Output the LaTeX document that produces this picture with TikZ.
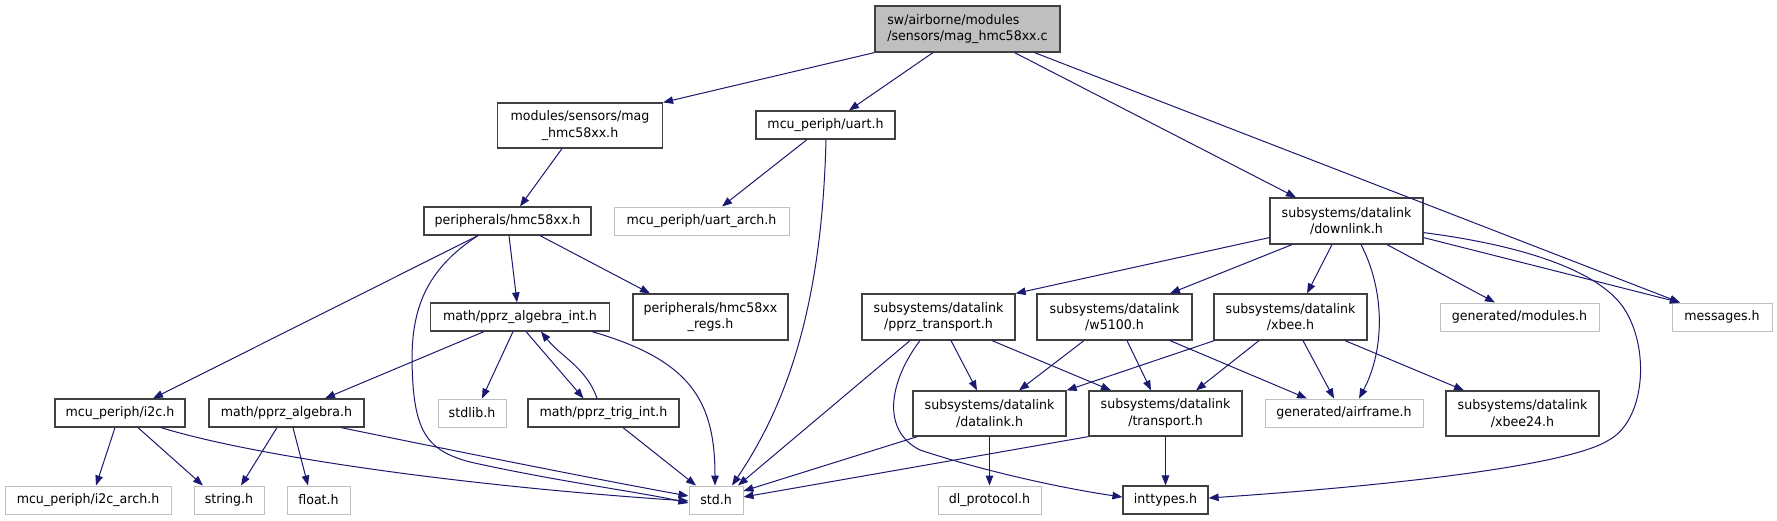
\documentclass[tikz,border=0pt]{standalone}
\usepackage{fontspec}
\setmainfont{DejaVu Sans}[FakeStretch=0.955]
\usetikzlibrary{arrows.meta}
\definecolor{edgeblue}{HTML}{191970}
\definecolor{gborder}{HTML}{BFBFBF}
\definecolor{bborder}{HTML}{404040}
\begin{document}
\begin{tikzpicture}[x=1pt,y=-1pt,
  every node/.style={font=\fontsize{13.2}{16.8}\selectfont, inner sep=0pt, align=center},
  bbox/.style={draw=bborder, line width=1.2pt, fill=white},
  gbox/.style={draw=gborder, line width=1pt, fill=white},
  edge/.style={draw=edgeblue, line width=1pt, -{Triangle[length=10pt,width=7.5pt]}}]
\useasboundingbox (0,0) rectangle (1777,520);
% rank 0
\node[bbox, fill=gborder, align=left, minimum width=185pt, minimum height=46pt] (root) at (967.5,29) {sw/airborne/modules\\/sensors/mag\_hmc58xx.c};
% rank 1
\node[bbox, minimum width=165pt, minimum height=45pt] (mag) at (580,125.5) {modules/sensors/mag\\\_hmc58xx.h};
\node[bbox, minimum width=139pt, minimum height=28pt] (uart) at (825.5,125) {mcu\_periph/uart.h};
% rank 2
\node[bbox, minimum width=167pt, minimum height=28pt] (hmc) at (507.5,221) {peripherals/hmc58xx.h};
\node[gbox, minimum width=175pt, minimum height=28pt] (uartarch) at (701.5,221) {mcu\_periph/uart\_arch.h};
\node[bbox, minimum width=153pt, minimum height=46pt] (downlink) at (1346.5,221) {subsystems/datalink\\/downlink.h};
% rank 3
\node[bbox, minimum width=179pt, minimum height=28pt] (algint) at (520,317) {math/pprz\_algebra\_int.h};
\node[bbox, minimum width=155pt, minimum height=46pt] (regs) at (710.5,317) {peripherals/hmc58xx\\\_regs.h};
\node[bbox, minimum width=153pt, minimum height=46pt] (pprzt) at (938.5,317) {subsystems/datalink\\/pprz\_transport.h};
\node[bbox, minimum width=155pt, minimum height=46pt] (w5100) at (1114.5,317) {subsystems/datalink\\/w5100.h};
\node[bbox, minimum width=153pt, minimum height=46pt] (xbee) at (1290.5,317) {subsystems/datalink\\/xbee.h};
\node[gbox, minimum width=159pt, minimum height=28pt] (genmod) at (1519.5,317) {generated/modules.h};
\node[gbox, minimum width=100pt, minimum height=28pt] (messages) at (1722,317) {messages.h};
% rank 4
\node[bbox, minimum width=130pt, minimum height=28pt] (i2c) at (120,413) {mcu\_periph/i2c.h};
\node[bbox, minimum width=155pt, minimum height=28pt] (alg) at (286.5,413) {math/pprz\_algebra.h};
\node[gbox, minimum width=68pt, minimum height=28pt] (stdlib) at (472,413) {stdlib.h};
\node[bbox, minimum width=151pt, minimum height=28pt] (trig) at (603.5,413) {math/pprz\_trig\_int.h};
\node[bbox, minimum width=153pt, minimum height=45pt] (datalink) at (989.5,413.5) {subsystems/datalink\\/datalink.h};
\node[bbox, minimum width=153pt, minimum height=45pt] (transport) at (1165.5,413.5) {subsystems/datalink\\/transport.h};
\node[gbox, minimum width=158pt, minimum height=28pt] (airframe) at (1344,413) {generated/airframe.h};
\node[bbox, minimum width=153pt, minimum height=45pt] (xbeetf) at (1522.5,413.5) {subsystems/datalink\\/xbee24.h};
% rank 5
\node[gbox, minimum width=166pt, minimum height=28pt] (i2carch) at (88,500) {mcu\_periph/i2c\_arch.h};
\node[gbox, minimum width=70pt, minimum height=28pt] (string) at (229,500) {string.h};
\node[gbox, minimum width=63pt, minimum height=28pt] (float) at (318.5,500) {float.h};
\node[gbox, minimum width=54pt, minimum height=28pt] (std) at (716,500) {std.h};
\node[gbox, minimum width=103pt, minimum height=28pt] (dlproto) at (989.5,500) {dl\_protocol.h};
\node[bbox, minimum width=85pt, minimum height=28pt] (inttypes) at (1165.5,500) {inttypes.h};
% edges from root
\draw[edge] (root.south west) -- (mag.north east);
\draw[edge] ([xshift=-34.5pt]root.south) -- ([xshift=23.5pt]uart.north);
\draw[edge] ([xshift=47pt]root.south) -- ([xshift=-50.5pt]downlink.north);
\draw[edge] ([xshift=67pt]root.south) -- ([xshift=-42pt]messages.north);
% mag, uart
\draw[edge] ([xshift=-18pt]mag.south) -- ([xshift=12.5pt]hmc.north);
\draw[edge] ([xshift=-18.5pt]uart.south) -- ([xshift=20.5pt]uartarch.north);
\draw[edge] ([xshift=0.5pt]uart.south) .. controls +(-4,160) and +(58,-86) .. ([xshift=16pt]std.north);
% hmc
\draw[edge] ([xshift=-29.5pt]hmc.south) -- ([xshift=33pt]i2c.north);
\draw[edge] ([xshift=-29.5pt]hmc.south) .. controls (425,270) and (412,310) .. (412,360) .. controls (413,430) and (425,450) .. (470,462) .. controls (560,482) and (640,492) .. ([yshift=-3pt]std.west);
\draw[edge] ([xshift=1.5pt]hmc.south) -- ([xshift=-3pt]algint.north);
\draw[edge] ([xshift=32.5pt]hmc.south) -- ([xshift=-60.5pt]regs.north);
% algint
\draw[edge] ([xshift=-36pt]algint.south) -- ([xshift=38.5pt]alg.north);
\draw[edge] ([xshift=-7pt]algint.south) -- ([xshift=10pt]stdlib.north);
\draw[edge] ([xshift=6pt]algint.south) -- ([xshift=-20pt]trig.north);
\draw[edge] ([xshift=-6.5pt]trig.north) .. controls +(-10,-30) and +(20,25) .. ([xshift=21pt]algint.south);
\draw[edge] ([xshift=72pt]algint.south) .. controls (690,360) and (715,400) .. ([xshift=-1pt]std.north);
% i2c, alg, trig
\draw[edge] ([xshift=-5pt]i2c.south) -- ([xshift=8pt]i2carch.north);
\draw[edge] ([xshift=18pt]i2c.south) -- ([xshift=-26pt]string.north);
\draw[edge] ([xshift=41pt]i2c.south) .. controls (250,455) and (450,485) .. ([yshift=-1pt]std.west);
\draw[edge] ([xshift=-9.5pt]alg.south) -- ([xshift=12pt]string.north);
\draw[edge] ([xshift=6.5pt]alg.south) -- ([xshift=-10.5pt]float.north);
\draw[edge] ([xshift=54.5pt]alg.south) .. controls (450,450) and (600,480) .. ([yshift=4pt]std.west);
\draw[edge] ([xshift=19.5pt]trig.south) -- ([xshift=-20pt]std.north);
% downlink
\draw[edge] ([yshift=7pt]downlink.south west) -- (pprzt.north east);
\draw[edge] ([xshift=-54.5pt]downlink.south) -- ([xshift=55.5pt]w5100.north);
\draw[edge] ([xshift=-14.5pt]downlink.south) -- ([xshift=16.5pt]xbee.north);
\draw[edge] ([xshift=14.5pt]downlink.south) .. controls +(24,46) and +(26,-49) .. ([xshift=15pt]airframe.north);
\draw[edge] ([xshift=40.5pt]downlink.south) -- ([xshift=-24.5pt]genmod.north);
\draw[edge] ([yshift=7pt]downlink.south east) -- ([xshift=-42pt]messages.north);
\draw[edge] ([yshift=12pt]downlink.south east) .. controls (1520,245) and (1600,270) .. (1625,310) .. controls (1650,350) and (1645,420) .. (1609,440) .. controls (1570,465) and (1400,485) .. ([yshift=2pt]inttypes.east);
% pprz_transport
\draw[edge] ([xshift=-28.5pt]pprzt.south) -- ([xshift=22pt]std.north);
\draw[edge] ([xshift=-18.5pt]pprzt.south) .. controls (890,380) and (880,430) .. (920,450) .. controls (980,470) and (1060,488) .. ([yshift=3pt]inttypes.west);
\draw[edge] ([xshift=12.5pt]pprzt.south) -- ([xshift=-12.5pt]datalink.north);
\draw[edge] ([xshift=53.5pt]pprzt.south) -- ([xshift=-54.5pt]transport.north);
% w5100
\draw[edge] ([xshift=-30.5pt]w5100.south) -- ([xshift=29.5pt]datalink.north);
\draw[edge] ([xshift=12.5pt]w5100.south) -- ([xshift=-14.5pt]transport.north);
\draw[edge] ([xshift=55.5pt]w5100.south) -- ([xshift=-37pt]airframe.north);
% xbee
\draw[edge] ([xshift=1pt]xbee.south west) -- (datalink.north east);
\draw[edge] ([xshift=-31.5pt]xbee.south) -- ([xshift=30.5pt]transport.north);
\draw[edge] ([xshift=12.5pt]xbee.south) -- ([xshift=-10pt]airframe.north);
\draw[edge] ([xshift=54.5pt]xbee.south) -- ([xshift=-58.5pt]xbeetf.north);
% datalink, transport
\draw[edge] ([xshift=5pt]datalink.south west) -- ([yshift=9pt]std.east);
\draw[edge] (datalink.south) -- (dlproto.north);
\draw[edge] (transport.south west) -- ([yshift=3pt]std.east);
\draw[edge] (transport.south) -- (inttypes.north);
\end{tikzpicture}
\end{document}
